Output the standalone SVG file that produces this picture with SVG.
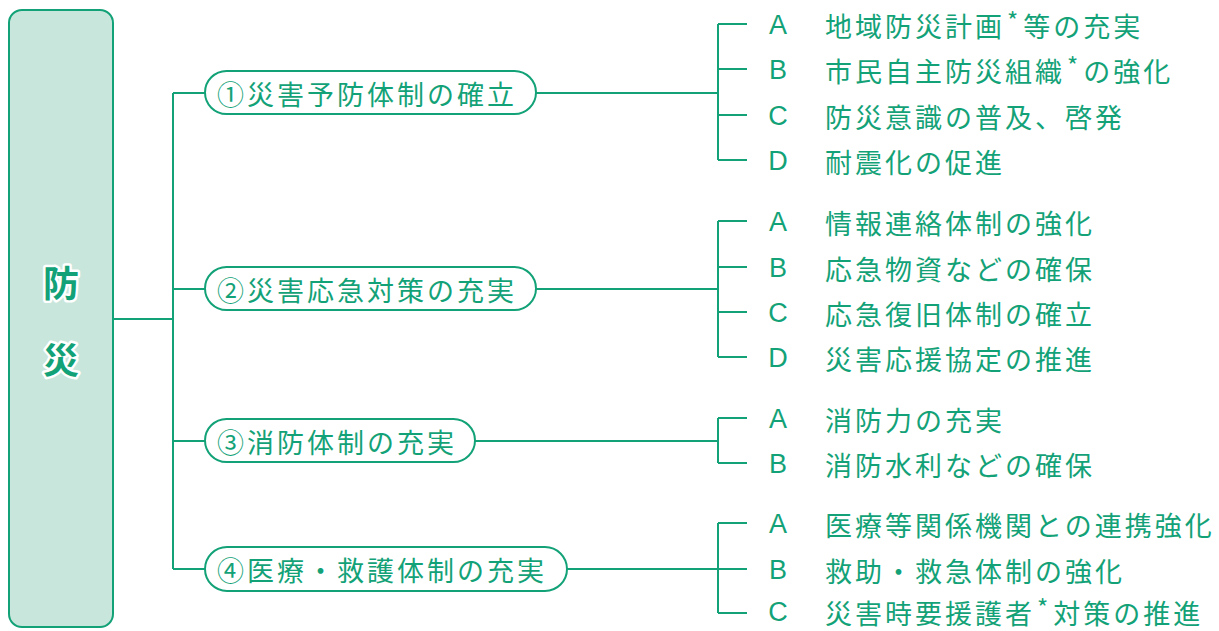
<svg xmlns="http://www.w3.org/2000/svg" width="1219" height="631" viewBox="0 0 1219 631">
<style>
.ln{fill:none;stroke:#13a277;stroke-width:2}
.pill{fill:#fff;stroke:#13a277;stroke-width:2}
.jp{font-family:"Noto Sans CJK JP","Noto Sans CJK SC",sans-serif;font-size:27px;fill:#13a277;letter-spacing:3px;dominant-baseline:central}
.lt{font-family:"Liberation Sans","Noto Sans",sans-serif;font-size:27px;fill:#13a277;text-anchor:middle;dominant-baseline:central}
.big{font-family:"Noto Sans CJK JP",sans-serif;font-size:36px;font-weight:bold;fill:#13a277;stroke:#fff;stroke-width:5px;stroke-linejoin:round;paint-order:stroke;text-anchor:middle;dominant-baseline:central}
.ast{font-size:24px;letter-spacing:5px}
</style>
<rect width="1219" height="631" fill="#fff"/>
<g id="connectors">
<path class="ln" d="M113 319H173M173 93V569M173 93H205M173 289H205M173 441H205M173 569H205"/>
<path class="ln" d="M536 93H718M718 24V160M718 24H747M718 69H747M718 115H747M718 160H747"/>
<path class="ln" d="M536 289H718M718 221V357M718 221H747M718 267H747M718 312H747M718 357H747"/>
<path class="ln" d="M475 441H718M718 418V463M718 418H747M718 463H747"/>
<path class="ln" d="M567 569H718M718 523V613M718 523H747M718 569H747M718 613H747"/>
</g>
<g id="root">
<rect x="9" y="10" width="104" height="617" rx="13" fill="#c9e6dc" stroke="#13a277" stroke-width="2"/>
<text class="big" x="61" y="281">防</text>
<text class="big" x="61" y="358">災</text>
</g>
<g id="n1">
<rect class="pill" x="205" y="71" width="331" height="43" rx="21.5"/>
<text class="jp" x="217" y="93">①災害予防体制の確立</text>
</g>
<g id="n2">
<rect class="pill" x="205" y="267" width="331" height="43" rx="21.5"/>
<text class="jp" x="217" y="289">②災害応急対策の充実</text>
</g>
<g id="n3">
<rect class="pill" x="205" y="419" width="270" height="43" rx="21.5"/>
<text class="jp" x="217" y="441">③消防体制の充実</text>
</g>
<g id="n4">
<rect class="pill" x="205" y="547" width="362" height="44" rx="22"/>
<text class="jp" x="217" y="569">④医療・救護体制の充実</text>
</g>
<g id="g1">
<text class="lt" x="778" y="25">A</text>
<text class="jp" x="825" y="25">地域防災計画<tspan class="ast" dx="2" dy="-6">*</tspan><tspan dy="6">等の充実</tspan></text>
<text class="lt" x="778" y="70">B</text>
<text class="jp" x="825" y="70">市民自主防災組織<tspan class="ast" dx="2" dy="-6">*</tspan><tspan dy="6">の強化</tspan></text>
<text class="lt" x="778" y="116">C</text>
<text class="jp" x="825" y="116">防災意識の普及、啓発</text>
<text class="lt" x="778" y="161">D</text>
<text class="jp" x="825" y="161">耐震化の促進</text>
</g>
<g id="g2">
<text class="lt" x="778" y="222">A</text>
<text class="jp" x="825" y="222">情報連絡体制の強化</text>
<text class="lt" x="778" y="268">B</text>
<text class="jp" x="825" y="268">応急物資などの確保</text>
<text class="lt" x="778" y="313">C</text>
<text class="jp" x="825" y="313">応急復旧体制の確立</text>
<text class="lt" x="778" y="358">D</text>
<text class="jp" x="825" y="358">災害応援協定の推進</text>
</g>
<g id="g3">
<text class="lt" x="778" y="419">A</text>
<text class="jp" x="825" y="419">消防力の充実</text>
<text class="lt" x="778" y="464">B</text>
<text class="jp" x="825" y="464">消防水利などの確保</text>
</g>
<g id="g4">
<text class="lt" x="778" y="524">A</text>
<text class="jp" x="825" y="524">医療等関係機関との連携強化</text>
<text class="lt" x="778" y="570">B</text>
<text class="jp" x="825" y="570">救助・救急体制の強化</text>
<text class="lt" x="778" y="612">C</text>
<text class="jp" x="825" y="612">災害時要援護者<tspan class="ast" dx="2" dy="-6">*</tspan><tspan dy="6">対策の推進</tspan></text>
</g>
</svg>
